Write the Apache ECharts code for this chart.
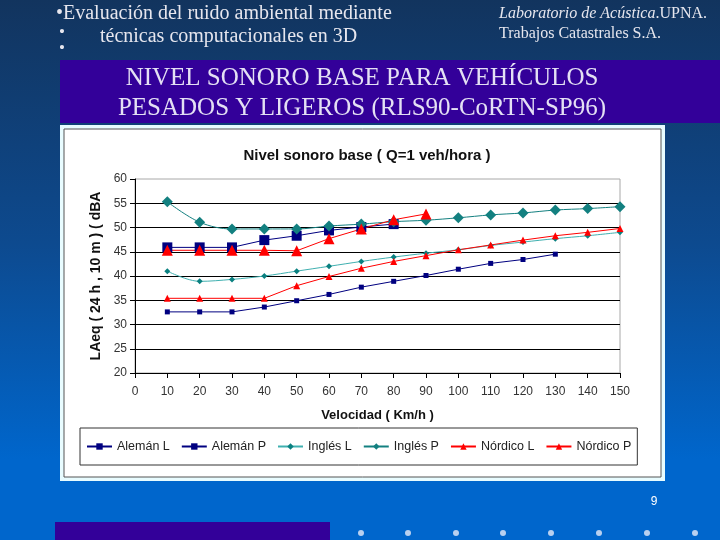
<!DOCTYPE html>
<html>
<head>
<meta charset="utf-8">
<script src="https://cdn.jsdelivr.net/npm/echarts@6/dist/echarts.min.js"></script>
<style>
  html, body { margin: 0; padding: 0; }
  body { background: linear-gradient(#12345e 0%, #0d4a8f 45%, #0066cc 85%, #0066cc 100%); }
  #main { width: 720px; height: 540px; }
</style>
</head>
<body>
<div id="main"></div>
<script>
// velocidad (km/h)
var speeds = [10, 20, 30, 40, 50, 60, 70, 80, 90, 100, 110, 120, 130, 140, 150];

// LAeq (24 h, 10 m) en dBA, null = sin dato
var alemanL = [32.6, 32.6, 32.6, 33.6, 34.9, 36.2, 37.7, 38.9, 40.1, 41.4, 42.6, 43.4, 44.5, null, null];
var alemanP = [45.9, 45.9, 45.9, 47.4, 48.3, 49.4, 50.1, 50.7, null, null, null, null, null, null, null];
var inglesL = [41.0, 38.9, 39.3, 40.0, 41.0, 42.0, 43.0, 43.9, 44.7, 45.4, 46.3, 47.0, 47.7, 48.3, 49.0];
var inglesP = [55.3, 51.1, 49.7, 49.7, 49.7, 50.3, 50.7, 51.2, 51.5, 52.0, 52.6, 53.0, 53.6, 53.9, 54.3];
var nordicoL = [35.4, 35.4, 35.4, 35.4, 38.0, 39.9, 41.6, 43.0, 44.2, 45.4, 46.4, 47.4, 48.3, 49.0, 49.8];
var nordicoP = [45.3, 45.3, 45.3, 45.3, 45.2, 47.7, 49.7, 51.6, 52.8, null, null, null, null, null, null];

var seriesNames = ['Alemán L', 'Alemán P', 'Inglés L', 'Inglés P', 'Nórdico L', 'Nórdico P'];
var yTicks = [20, 60, 5];

function pairs(vals) {
  var out = [];
  for (var i = 0; i < speeds.length; i++) {
    if (vals[i] != null) out.push([speeds[i], vals[i]]);
  }
  return out;
}

function line(name, vals, color, lineColor, symbol, size, smooth) {
  return {
    name: name,
    type: 'line',
    data: pairs(vals),
    symbol: symbol,
    symbolSize: size,
    smooth: smooth,
    itemStyle: { color: color },
    lineStyle: { color: lineColor, width: 1 }
  };
}

var chart = echarts.init(document.getElementById('main'), null, { renderer: 'canvas' });

var slideText = '#e6e6ee';
var dots = [];
[361, 408, 456, 503, 551, 599, 647, 695].forEach(function (x) {
  dots.push({ type: 'circle', shape: { cx: x, cy: 533, r: 3 }, style: { fill: '#b8d0f0' } });
});

var option = {
  backgroundColor: 'transparent',
  animation: false,
  title: {
    text: 'Nivel sonoro base ( Q=1 veh/hora )',
    left: 362,
    textAlign: 'center',
    top: 143,
    textStyle: { fontFamily: 'Liberation Sans', fontSize: 15, fontWeight: 'bold', color: '#111' }
  },
  graphic: [
    // paneles de fondo
    { type: 'rect', z: -10, shape: { x: 60, y: 60, width: 660, height: 63 }, style: { fill: '#330099' } },
    { type: 'rect', z: -10, shape: { x: 60, y: 125, width: 605, height: 356 }, style: { fill: '#e8fcff' } },
    { type: 'rect', z: -9, shape: { x: 64, y: 129, width: 597, height: 348 }, style: { fill: '#ffffff', stroke: '#555', lineWidth: 1 } },
    { type: 'rect', z: -10, shape: { x: 55, y: 522, width: 275, height: 18 }, style: { fill: '#330099' } },
    // textos de la diapositiva
    { type: 'text', left: 56, top: 4, style: { text: '•Evaluación del ruido ambiental mediante', fill: slideText, font: '20px "Liberation Serif"' } },
    { type: 'text', left: 59, top: 24, style: { text: '•', fill: slideText, font: '17px "Liberation Serif"' } },
    { type: 'text', left: 100, top: 27, style: { text: 'técnicas computacionales en 3D', fill: slideText, font: '20px "Liberation Serif"' } },
    { type: 'text', left: 59, top: 40, style: { text: '•', fill: slideText, font: '17px "Liberation Serif"' } },
    { type: 'text', left: 499, top: 6, style: {
        text: '{i|Laboratorio de Acústica}.UPNA.', fill: slideText, font: '16px "Liberation Serif"',
        rich: { i: { fontStyle: 'italic', fontFamily: 'Liberation Serif', fontSize: 16, fill: slideText } } } },
    { type: 'text', left: 499, top: 26, style: { text: 'Trabajos Catastrales S.A.', fill: slideText, font: '16px "Liberation Serif"' } },
    { type: 'text', x: 362, y: 78, style: { text: 'NIVEL SONORO BASE PARA VEHÍCULOS', fill: '#e4e0f4', font: '25px "Liberation Serif"', textAlign: 'center', textVerticalAlign: 'middle' } },
    { type: 'text', x: 362, y: 108, style: { text: 'PESADOS Y LIGEROS (RLS90-CoRTN-SP96)', fill: '#e4e0f4', font: '25px "Liberation Serif"', textAlign: 'center', textVerticalAlign: 'middle' } },
    { type: 'text', x: 654, y: 502, style: { text: '9', fill: '#ffffff', font: '12px "Liberation Sans"', textAlign: 'center', textVerticalAlign: 'middle' } }
  ].concat(dots),
  legend: {
    data: seriesNames,
    left: 80,
    top: 428,
    width: 563,
    padding: [12, 6, 12, 6],
    itemGap: 11,
    itemWidth: 25,
    itemHeight: 8,
    borderColor: '#333',
    borderWidth: 1,
    textStyle: { fontFamily: 'Liberation Sans', fontSize: 12.5, color: '#222' }
  },
  grid: {
    left: 135, right: 100, top: 179, bottom: 167,
    show: true,
    backgroundColor: '#fff',
    borderColor: '#a8a8a8',
    borderWidth: 1
  },
  xAxis: {
    type: 'value',
    min: 0, max: 150, interval: 10,
    name: 'Velocidad ( Km/h )',
    nameLocation: 'middle',
    nameGap: 36,
    nameTextStyle: { fontFamily: 'Liberation Sans', fontSize: 13, fontWeight: 'bold', color: '#111' },
    axisLine: { lineStyle: { color: '#000', width: 1 } },
    axisTick: { show: true, length: 5, lineStyle: { color: '#000' } },
    axisLabel: { margin: 13, fontFamily: 'Liberation Sans', fontSize: 12, color: '#333' },
    splitLine: { show: false }
  },
  yAxis: {
    type: 'value',
    min: yTicks[0], max: yTicks[1], interval: yTicks[2],
    name: 'LAeq ( 24 h , 10 m ) ( dBA',
    nameLocation: 'middle',
    nameRotate: 90,
    nameGap: 32,
    nameTextStyle: { fontFamily: 'Liberation Sans', fontSize: 14, fontWeight: 'bold', color: '#111' },
    axisLine: { show: true, lineStyle: { color: '#000', width: 1 } },
    axisTick: { show: true, length: 5, lineStyle: { color: '#000' } },
    axisLabel: { margin: 8, fontFamily: 'Liberation Sans', fontSize: 12, color: '#333' },
    splitLine: { show: true, showMaxLine: false, lineStyle: { color: '#000', width: 1 } }
  },
  series: [
    line('Alemán L', alemanL, '#000080', '#000080', 'rect', 5, false),
    line('Alemán P', alemanP, '#000080', '#000080', 'rect', 10, false),
    line('Inglés L', inglesL, '#0a8080', '#3fb0b0', 'diamond', 6, 0.35),
    line('Inglés P', inglesP, '#138080', '#138080', 'diamond', 11, 0.35),
    line('Nórdico L', nordicoL, '#ff0000', '#ff0000', 'triangle', 7, false),
    line('Nórdico P', nordicoP, '#ff0000', '#ff0000', 'triangle', 11, false)
  ]
};

chart.setOption(option);
</script>
</body>
</html>
